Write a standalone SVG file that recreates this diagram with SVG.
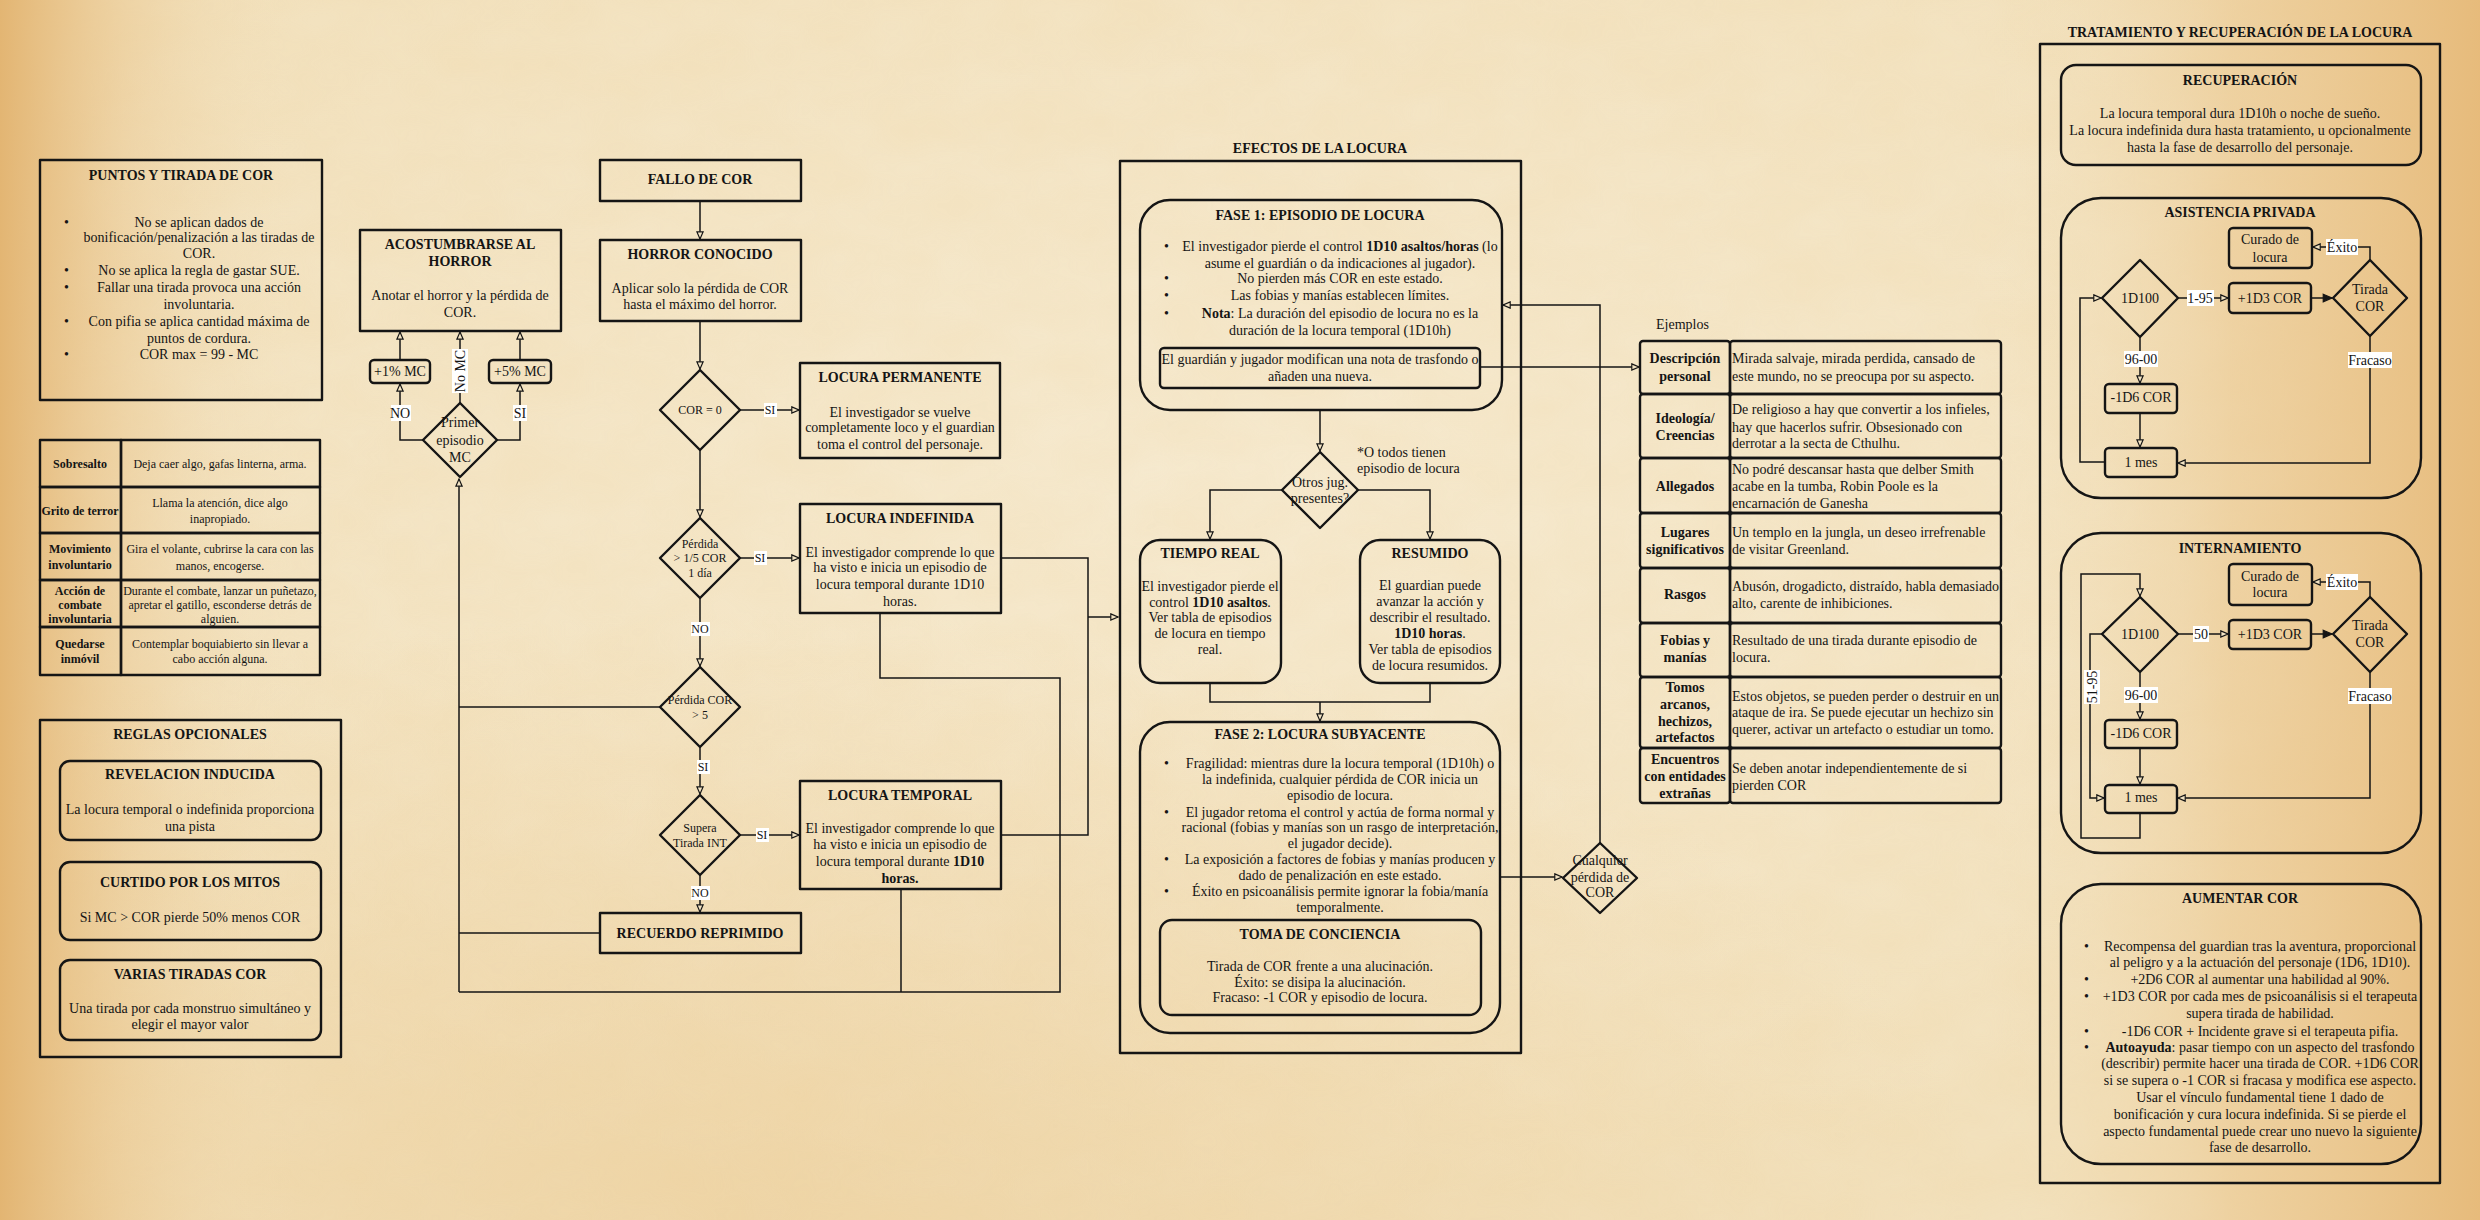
<svg xmlns="http://www.w3.org/2000/svg" width="2480" height="1220" viewBox="0 0 2480 1220">
<defs>
<linearGradient id="gH" x1="0" y1="0" x2="1" y2="0">
<stop offset="0" stop-color="#e2b36f" stop-opacity="0.95"/>
<stop offset="0.05" stop-color="#e8c083" stop-opacity="0.4"/>
<stop offset="0.12" stop-color="#f2e1bd" stop-opacity="0"/>
<stop offset="0.8" stop-color="#f2e1bd" stop-opacity="0"/>
<stop offset="0.9" stop-color="#ebc78e" stop-opacity="0.6"/>
<stop offset="1" stop-color="#e6b978" stop-opacity="0.95"/>
</linearGradient>
<radialGradient id="gC" cx="0.5" cy="0.4" r="0.6">
<stop offset="0" stop-color="#f7ecd4" stop-opacity="0.8"/>
<stop offset="1" stop-color="#f7ecd4" stop-opacity="0"/>
</radialGradient>
<radialGradient id="gB" cx="0.3" cy="1" r="0.5">
<stop offset="0" stop-color="#eccd98" stop-opacity="0.6"/>
<stop offset="1" stop-color="#eccd98" stop-opacity="0"/>
</radialGradient>
<filter id="noise" x="0" y="0" width="100%" height="100%">
<feTurbulence type="fractalNoise" baseFrequency="0.012 0.02" numOctaves="3" seed="7"/>
<feColorMatrix type="matrix" values="0 0 0 0 0.85  0 0 0 0 0.62  0 0 0 0 0.3  0 0 0 0.35 -0.05"/>
</filter>
<marker id="a" viewBox="0 0 10 10" refX="9" refY="5" markerWidth="9" markerHeight="9" orient="auto" markerUnits="userSpaceOnUse">
<path d="M1,1.5 L9,5 L1,8.5 z" fill="#f3e4c4" stroke="#151515" stroke-width="1.3"/>
</marker>
<marker id="af" viewBox="0 0 10 10" refX="9" refY="5" markerWidth="11" markerHeight="11" orient="auto" markerUnits="userSpaceOnUse">
<path d="M1,1.5 L9,5 L1,8.5 z" fill="#151515" stroke="#151515" stroke-width="1"/>
</marker>
<style>
.t{font-family:"Liberation Serif","Times New Roman",serif;font-size:14px;fill:#141414}
.c{text-anchor:middle}
.b{font-weight:bold}
.s12{font-size:12px}
.bx{fill:none;stroke:#151515;stroke-width:2.4;stroke-linejoin:round}
.bx2{fill:none;stroke:#151515;stroke-width:1.2;stroke-linejoin:round;opacity:0.7}
.ln{fill:none;stroke:#151515;stroke-width:1.5}
.ar{marker-end:url(#a)}
.lb{fill:#ffffff}
</style>
</defs>

<g id="background">
<rect width="2480" height="1220" fill="#f2e1bd"/>
<rect width="2480" height="1220" fill="url(#gC)"/>
<rect width="2480" height="1220" fill="url(#gB)"/>
<rect width="2480" height="1220" filter="url(#noise)" opacity="0.55"/>
<rect width="2480" height="1220" fill="url(#gH)"/>
</g>

<!-- LEFT COLUMN -->
<g id="puntos">
<rect class="bx" x="40" y="160" width="282" height="240"/>
<text class="t c b" x="181" y="180">PUNTOS Y TIRADA DE COR</text>
<g class="t">
<text x="64" y="227">•</text><text x="64" y="275">•</text><text x="64" y="292">•</text><text x="64" y="326">•</text><text x="64" y="359">•</text>
</g>
<g class="t c">
<text x="199" y="227">No se aplican dados de</text>
<text x="199" y="242">bonificación/penalización a las tiradas de</text>
<text x="199" y="258">COR.</text>
<text x="199" y="275">No se aplica la regla de gastar SUE.</text>
<text x="199" y="292">Fallar una tirada provoca una acción</text>
<text x="199" y="309">involuntaria.</text>
<text x="199" y="326">Con pifia se aplica cantidad máxima de</text>
<text x="199" y="343">puntos de cordura.</text>
<text x="199" y="359">COR max = 99 - MC</text>
</g>
</g>

<g id="acciones-involuntarias">
<rect class="bx" x="40" y="440" width="81" height="47"/><rect class="bx" x="121" y="440" width="199" height="47"/>
<rect class="bx" x="40" y="487" width="81" height="46"/><rect class="bx" x="121" y="487" width="199" height="46"/>
<rect class="bx" x="40" y="533" width="81" height="47"/><rect class="bx" x="121" y="533" width="199" height="47"/>
<rect class="bx" x="40" y="580" width="81" height="47"/><rect class="bx" x="121" y="580" width="199" height="47"/>
<rect class="bx" x="40" y="627" width="81" height="48"/><rect class="bx" x="121" y="627" width="199" height="48"/>
<g class="t c b s12">
<text x="80" y="468">Sobresalto</text>
<text x="80" y="515">Grito de terror</text>
<text x="80" y="553">Movimiento</text><text x="80" y="569">involuntario</text>
<text x="80" y="595">Acción de</text><text x="80" y="609">combate</text><text x="80" y="623">involuntaria</text>
<text x="80" y="648">Quedarse</text><text x="80" y="663">inmóvil</text>
</g>
<g class="t c s12">
<text x="220" y="468">Deja caer algo, gafas linterna, arma.</text>
<text x="220" y="507">Llama la atención, dice algo</text><text x="220" y="523">inapropiado.</text>
<text x="220" y="553">Gira el volante, cubrirse la cara con las</text><text x="220" y="570">manos, encogerse.</text>
<text x="220" y="595">Durante el combate, lanzar un puñetazo,</text><text x="220" y="609">apretar el gatillo, esconderse detrás de</text><text x="220" y="623">alguien.</text>
<text x="220" y="648">Contemplar boquiabierto sin llevar a</text><text x="220" y="663">cabo acción alguna.</text>
</g>
</g>

<g id="reglas-opcionales">
<rect class="bx" x="40" y="720" width="301" height="337"/>
<text class="t c b" x="190" y="739">REGLAS OPCIONALES</text>
</g>
<g id="revelacion">
<rect class="bx" x="60" y="761" width="261" height="79" rx="10"/>
<text class="t c b" x="190" y="779">REVELACION INDUCIDA</text>
<text class="t c" x="190" y="814">La locura temporal o indefinida proporciona</text>
<text class="t c" x="190" y="831">una pista</text>
</g>
<g id="curtido">
<rect class="bx" x="60" y="862" width="261" height="78" rx="10"/>
<text class="t c b" x="190" y="887">CURTIDO POR LOS MITOS</text>
<text class="t c" x="190" y="922">Si MC &gt; COR pierde 50% menos COR</text>
</g>
<g id="varias">
<rect class="bx" x="60" y="960" width="261" height="80" rx="10"/>
<text class="t c b" x="190" y="979">VARIAS TIRADAS COR</text>
<text class="t c" x="190" y="1013">Una tirada por cada monstruo simultáneo y</text>
<text class="t c" x="190" y="1029">elegir el mayor valor</text>
</g>

<!-- ACOSTUMBRARSE -->
<g id="acostumbrarse">
<rect class="bx" x="360" y="230" width="201" height="101"/>
<text class="t c b" x="460" y="249">ACOSTUMBRARSE AL</text>
<text class="t c b" x="460" y="266">HORROR</text>
<text class="t c" x="460" y="300">Anotar el horror y la pérdida de</text>
<text class="t c" x="460" y="317">COR.</text>
</g>
<g id="mas1">
<rect class="bx" x="370" y="360" width="60" height="23" rx="4"/>
<text class="t c" x="400" y="376">+1% MC</text>
</g>
<g id="mas5">
<rect class="bx" x="489" y="360" width="62" height="23" rx="4"/>
<text class="t c" x="520" y="376">+5% MC</text>
</g>
<g id="primer-episodio">
<path class="bx" d="M460,403 L497,440 L460,477 L423,440 Z"/>
<text class="t c" x="460" y="427">Primer</text>
<text class="t c" x="460" y="445">episodio</text>
<text class="t c" x="460" y="462">MC</text>
</g>

<!-- CENTER FLOW -->
<g id="fallo">
<rect class="bx" x="600" y="160" width="201" height="41"/>
<text class="t c b" x="700" y="184">FALLO DE COR</text>
</g>
<g id="horror-conocido">
<rect class="bx" x="600" y="240" width="201" height="81"/>
<text class="t c b" x="700" y="259">HORROR CONOCIDO</text>
<text class="t c" x="700" y="293">Aplicar solo la pérdida de COR</text>
<text class="t c" x="700" y="309">hasta el máximo del horror.</text>
</g>
<g id="cor0">
<path class="bx" d="M700,370 L740,410 L700,450 L660,410 Z"/>
<text class="t c s12" x="700" y="414">COR = 0</text>
</g>
<g id="locura-permanente">
<rect class="bx" x="800" y="363" width="200" height="95"/>
<text class="t c b" x="900" y="382">LOCURA PERMANENTE</text>
<text class="t c" x="900" y="417">El investigador se vuelve</text>
<text class="t c" x="900" y="432">completamente loco y el guardian</text>
<text class="t c" x="900" y="449">toma el control del personaje.</text>
</g>
<g id="perdida-quinto">
<path class="bx" d="M700,518 L740,558 L700,598 L660,558 Z"/>
<text class="t c s12" x="700" y="548">Pérdida</text>
<text class="t c s12" x="700" y="562">&gt; 1/5 COR</text>
<text class="t c s12" x="700" y="577">1 día</text>
</g>
<g id="locura-indefinida">
<rect class="bx" x="800" y="504" width="201" height="109"/>
<text class="t c b" x="900" y="523">LOCURA INDEFINIDA</text>
<text class="t c" x="900" y="557">El investigador comprende lo que</text>
<text class="t c" x="900" y="572">ha visto e inicia un episodio de</text>
<text class="t c" x="900" y="589">locura temporal durante 1D10</text>
<text class="t c" x="900" y="606">horas.</text>
</g>
<g id="perdida-5">
<path class="bx" d="M700,667 L740,707 L700,747 L660,707 Z"/>
<text class="t c s12" x="700" y="704">Pérdida COR</text>
<text class="t c s12" x="700" y="719">&gt; 5</text>
</g>
<g id="supera-int">
<path class="bx" d="M700,795 L740,835 L700,875 L660,835 Z"/>
<text class="t c s12" x="700" y="832">Supera</text>
<text class="t c s12" x="700" y="847">Tirada INT</text>
</g>
<g id="locura-temporal">
<rect class="bx" x="800" y="781" width="201" height="108"/>
<text class="t c b" x="900" y="800">LOCURA TEMPORAL</text>
<text class="t c" x="900" y="833">El investigador comprende lo que</text>
<text class="t c" x="900" y="849">ha visto e inicia un episodio de</text>
<text class="t c" x="900" y="866">locura temporal durante <tspan class="b">1D10</tspan></text>
<text class="t c b" x="900" y="883">horas.</text>
</g>
<g id="recuerdo-reprimido">
<rect class="bx" x="600" y="913" width="201" height="40"/>
<text class="t c b" x="700" y="938">RECUERDO REPRIMIDO</text>
</g>

<!-- EFECTOS -->
<g id="efectos">
<text class="t c b" x="1320" y="153">EFECTOS DE LA LOCURA</text>
<rect class="bx" x="1120" y="161" width="401" height="892"/>
</g>
<g id="fase1">
<rect class="bx" x="1140" y="200" width="362" height="210" rx="30"/>
<text class="t c b" x="1320" y="220">FASE 1: EPISODIO DE LOCURA</text>
<g class="t"><text x="1164" y="251">•</text><text x="1164" y="283">•</text><text x="1164" y="300">•</text><text x="1164" y="318">•</text></g>
<g class="t c">
<text x="1340" y="251">El investigador pierde el control <tspan class="b">1D10 asaltos/horas</tspan> (lo</text>
<text x="1340" y="268">asume el guardián o da indicaciones al jugador).</text>
<text x="1340" y="283">No pierden más COR en este estado.</text>
<text x="1340" y="300">Las fobias y manías establecen límites.</text>
<text x="1340" y="318"><tspan class="b">Nota</tspan>: La duración del episodio de locura no es la</text>
<text x="1340" y="335">duración de la locura temporal (1D10h)</text>
</g>
</g>
<g id="nota-trasfondo">
<rect class="bx" x="1160" y="348" width="320" height="40" rx="4"/>
<text class="t c" x="1320" y="364">El guardián y jugador modifican una nota de trasfondo o</text>
<text class="t c" x="1320" y="381">añaden una nueva.</text>
</g>
<g id="otros-jug">
<path class="bx" d="M1320,452 L1358,490 L1320,528 L1282,490 Z"/>
<text class="t c" x="1320" y="487">Otros jug.</text>
<text class="t c" x="1320" y="503">presentes?</text>
<text class="t" x="1357" y="457">*O todos tienen</text>
<text class="t" x="1357" y="473">episodio de locura</text>
</g>
<g id="tiempo-real">
<rect class="bx" x="1140" y="540" width="141" height="143" rx="20"/>
<text class="t c b" x="1210" y="558">TIEMPO REAL</text>
<text class="t c" x="1210" y="591">El investigador pierde el</text>
<text class="t c" x="1210" y="607">control <tspan class="b">1D10 asaltos</tspan>.</text>
<text class="t c" x="1210" y="622">Ver tabla de episodios</text>
<text class="t c" x="1210" y="638">de locura en tiempo</text>
<text class="t c" x="1210" y="654">real.</text>
</g>
<g id="resumido">
<rect class="bx" x="1360" y="540" width="140" height="143" rx="20"/>
<text class="t c b" x="1430" y="558">RESUMIDO</text>
<text class="t c" x="1430" y="590">El guardian puede</text>
<text class="t c" x="1430" y="606">avanzar la acción y</text>
<text class="t c" x="1430" y="622">describir el resultado.</text>
<text class="t c" x="1430" y="638"><tspan class="b">1D10 horas</tspan>.</text>
<text class="t c" x="1430" y="654">Ver tabla de episodios</text>
<text class="t c" x="1430" y="670">de locura resumidos.</text>
</g>
<g id="fase2">
<rect class="bx" x="1140" y="722" width="360" height="311" rx="30"/>
<text class="t c b" x="1320" y="739">FASE 2: LOCURA SUBYACENTE</text>
<g class="t"><text x="1164" y="768">•</text><text x="1164" y="817">•</text><text x="1164" y="864">•</text><text x="1164" y="896">•</text></g>
<g class="t c">
<text x="1340" y="768">Fragilidad: mientras dure la locura temporal (1D10h) o</text>
<text x="1340" y="784">la indefinida, cualquier pérdida de COR inicia un</text>
<text x="1340" y="800">episodio de locura.</text>
<text x="1340" y="817">El jugador retoma el control y actúa de forma normal y</text>
<text x="1340" y="832">racional (fobias y manías son un rasgo de interpretación,</text>
<text x="1340" y="848">el jugador decide).</text>
<text x="1340" y="864">La exposición a factores de fobias y manías producen y</text>
<text x="1340" y="880">dado de penalización en este estado.</text>
<text x="1340" y="896">Éxito en psicoanálisis permite ignorar la fobia/manía</text>
<text x="1340" y="912">temporalmente.</text>
</g>
</g>
<g id="toma-conciencia">
<rect class="bx" x="1160" y="920" width="321" height="95" rx="12"/>
<text class="t c b" x="1320" y="939">TOMA DE CONCIENCIA</text>
<text class="t c" x="1320" y="971">Tirada de COR frente a una alucinación.</text>
<text class="t c" x="1320" y="987">Éxito: se disipa la alucinación.</text>
<text class="t c" x="1320" y="1002">Fracaso: -1 COR y episodio de locura.</text>
</g>
<g id="cualquier-perdida">
<path class="bx" d="M1600,843 L1637,878 L1600,913 L1563,878 Z"/>
<text class="t c" x="1600" y="865">Cualquier</text>
<text class="t c" x="1600" y="882">pérdida de</text>
<text class="t c" x="1600" y="897">COR</text>
</g>

<!-- EJEMPLOS -->
<g id="ejemplos">
<text class="t" x="1656" y="329">Ejemplos</text>
<rect class="bx" x="1640" y="341" width="90" height="53" rx="3"/><rect class="bx" x="1730" y="341" width="271" height="53" rx="3"/>
<rect class="bx" x="1640" y="394" width="90" height="64" rx="3"/><rect class="bx" x="1730" y="394" width="271" height="64" rx="3"/>
<rect class="bx" x="1640" y="458" width="90" height="55" rx="3"/><rect class="bx" x="1730" y="458" width="271" height="55" rx="3"/>
<rect class="bx" x="1640" y="513" width="90" height="55" rx="3"/><rect class="bx" x="1730" y="513" width="271" height="55" rx="3"/>
<rect class="bx" x="1640" y="568" width="90" height="55" rx="3"/><rect class="bx" x="1730" y="568" width="271" height="55" rx="3"/>
<rect class="bx" x="1640" y="623" width="90" height="54" rx="3"/><rect class="bx" x="1730" y="623" width="271" height="54" rx="3"/>
<rect class="bx" x="1640" y="677" width="90" height="71" rx="3"/><rect class="bx" x="1730" y="677" width="271" height="71" rx="3"/>
<rect class="bx" x="1640" y="748" width="90" height="55" rx="3"/><rect class="bx" x="1730" y="748" width="271" height="55" rx="3"/>
<g class="t c b">
<text x="1685" y="363">Descripción</text><text x="1685" y="381">personal</text>
<text x="1685" y="423">Ideología/</text><text x="1685" y="440">Creencias</text>
<text x="1685" y="491">Allegados</text>
<text x="1685" y="537">Lugares</text><text x="1685" y="554">significativos</text>
<text x="1685" y="599">Rasgos</text>
<text x="1685" y="645">Fobias y</text><text x="1685" y="662">manías</text>
<text x="1685" y="692">Tomos</text><text x="1685" y="709">arcanos,</text><text x="1685" y="726">hechizos,</text><text x="1685" y="742">artefactos</text>
<text x="1685" y="764">Encuentros</text><text x="1685" y="781">con entidades</text><text x="1685" y="798">extrañas</text>
</g>
<g class="t">
<text x="1732" y="363">Mirada salvaje, mirada perdida, cansado de</text><text x="1732" y="381">este mundo, no se preocupa por su aspecto.</text>
<text x="1732" y="414">De religioso a hay que convertir a los infieles,</text><text x="1732" y="432">hay que hacerlos sufrir. Obsesionado con</text><text x="1732" y="448">derrotar a la secta de Cthulhu.</text>
<text x="1732" y="474">No podré descansar hasta que delber Smith</text><text x="1732" y="491">acabe en la tumba, Robin Poole es la</text><text x="1732" y="508">encarnación de Ganesha</text>
<text x="1732" y="537">Un templo en la jungla, un deseo irrefrenable</text><text x="1732" y="554">de visitar Greenland.</text>
<text x="1732" y="591">Abusón, drogadicto, distraído, habla demasiado</text><text x="1732" y="608">alto, carente de inhibiciones.</text>
<text x="1732" y="645">Resultado de una tirada durante episodio de</text><text x="1732" y="662">locura.</text>
<text x="1732" y="701">Estos objetos, se pueden perder o destruir en un</text><text x="1732" y="717">ataque de ira. Se puede ejecutar un hechizo sin</text><text x="1732" y="734">querer, activar un artefacto o estudiar un tomo.</text>
<text x="1732" y="773">Se deben anotar independientemente de si</text><text x="1732" y="790">pierden COR</text>
</g>
</g>

<!-- RIGHT COLUMN -->
<g id="tratamiento">
<text class="t c b" x="2240" y="37">TRATAMIENTO Y RECUPERACIÓN DE LA LOCURA</text>
<rect class="bx" x="2040" y="44" width="400" height="1139"/>
</g>
<g id="recuperacion">
<rect class="bx" x="2061" y="65" width="360" height="100" rx="15"/>
<text class="t c b" x="2240" y="85">RECUPERACIÓN</text>
<text class="t c" x="2240" y="118">La locura temporal dura 1D10h o noche de sueño.</text>
<text class="t c" x="2240" y="135">La locura indefinida dura hasta tratamiento, u opcionalmente</text>
<text class="t c" x="2240" y="152">hasta la fase de desarrollo del personaje.</text>
</g>
<g id="asistencia-privada">
<rect class="bx" x="2061" y="198" width="360" height="300" rx="40"/>
<text class="t c b" x="2240" y="217">ASISTENCIA PRIVADA</text>
</g>
<g id="ap-curado"><rect class="bx" x="2229" y="228" width="83" height="40" rx="4"/><text class="t c" x="2270" y="244">Curado de</text><text class="t c" x="2270" y="262">locura</text></g>
<g id="ap-1d100"><path class="bx" d="M2140,260 L2178,298 L2140,337 L2102,298 Z"/><text class="t c" x="2140" y="303">1D100</text></g>
<g id="ap-1d3"><rect class="bx" x="2229" y="283" width="82" height="30" rx="4"/><text class="t c" x="2270" y="303">+1D3 COR</text></g>
<g id="ap-tirada"><path class="bx" d="M2370,260 L2407,298 L2370,336 L2333,298 Z"/><text class="t c" x="2370" y="294">Tirada</text><text class="t c" x="2370" y="311">COR</text></g>
<g id="ap-1d6"><rect class="bx" x="2105" y="384" width="72" height="29" rx="4"/><text class="t c" x="2141" y="402">-1D6 COR</text></g>
<g id="ap-mes"><rect class="bx" x="2105" y="448" width="72" height="29" rx="4"/><text class="t c" x="2141" y="467">1 mes</text></g>

<g id="internamiento">
<rect class="bx" x="2061" y="533" width="360" height="320" rx="40"/>
<text class="t c b" x="2240" y="553">INTERNAMIENTO</text>
</g>
<g id="in-curado"><rect class="bx" x="2229" y="564" width="83" height="41" rx="4"/><text class="t c" x="2270" y="581">Curado de</text><text class="t c" x="2270" y="597">locura</text></g>
<g id="in-1d100"><path class="bx" d="M2140,597 L2178,634 L2140,672 L2102,634 Z"/><text class="t c" x="2140" y="639">1D100</text></g>
<g id="in-1d3"><rect class="bx" x="2229" y="620" width="82" height="29" rx="4"/><text class="t c" x="2270" y="639">+1D3 COR</text></g>
<g id="in-tirada"><path class="bx" d="M2370,597 L2407,634 L2370,672 L2333,634 Z"/><text class="t c" x="2370" y="630">Tirada</text><text class="t c" x="2370" y="647">COR</text></g>
<g id="in-1d6"><rect class="bx" x="2105" y="720" width="72" height="28" rx="4"/><text class="t c" x="2141" y="738">-1D6 COR</text></g>
<g id="in-mes"><rect class="bx" x="2105" y="785" width="72" height="28" rx="4"/><text class="t c" x="2141" y="802">1 mes</text></g>

<g id="aumentar-cor">
<rect class="bx" x="2061" y="884" width="360" height="280" rx="40"/>
<text class="t c b" x="2240" y="903">AUMENTAR COR</text>
<g class="t"><text x="2084" y="951">•</text><text x="2084" y="984">•</text><text x="2084" y="1001">•</text><text x="2084" y="1036">•</text><text x="2084" y="1052">•</text></g>
<g class="t c">
<text x="2260" y="951">Recompensa del guardian tras la aventura, proporcional</text>
<text x="2260" y="967">al peligro y a la actuación del personaje (1D6, 1D10).</text>
<text x="2260" y="984">+2D6 COR al aumentar una habilidad al 90%.</text>
<text x="2260" y="1001">+1D3 COR por cada mes de psicoanálisis si el terapeuta</text>
<text x="2260" y="1018">supera tirada de habilidad.</text>
<text x="2260" y="1036">-1D6 COR + Incidente grave si el terapeuta pifia.</text>
<text x="2260" y="1052"><tspan class="b">Autoayuda</tspan>: pasar tiempo con un aspecto del trasfondo</text>
<text x="2260" y="1068">(describir) permite hacer una tirada de COR. +1D6 COR</text>
<text x="2260" y="1085">si se supera o -1 COR si fracasa y modifica ese aspecto.</text>
<text x="2260" y="1102">Usar el vínculo fundamental tiene 1 dado de</text>
<text x="2260" y="1119">bonificación y cura locura indefinida. Si se pierde el</text>
<text x="2260" y="1136">aspecto fundamental puede crear uno nuevo la siguiente</text>
<text x="2260" y="1152">fase de desarrollo.</text>
</g>
</g>

<!-- CONNECTORS -->
<g id="connectors">
<!-- acostumbrarse -->
<path class="ln ar" d="M423,440 H400 V384"/>
<path class="ln ar" d="M497,440 H520 V384"/>
<path class="ln ar" d="M460,403 V332"/>
<path class="ln ar" d="M400,360 V332"/>
<path class="ln ar" d="M520,360 V332"/>
<path class="ln ar" d="M459,992 V479"/>
<!-- center -->
<path class="ln ar" d="M700,201 V239"/>
<path class="ln ar" d="M700,321 V369"/>
<path class="ln ar" d="M740,410 H799"/>
<path class="ln ar" d="M700,450 V517"/>
<path class="ln ar" d="M740,558 H799"/>
<path class="ln ar" d="M700,598 V666"/>
<path class="ln ar" d="M700,747 V794"/>
<path class="ln ar" d="M740,835 H799"/>
<path class="ln ar" d="M700,875 V912"/>
<path class="ln" d="M660,707 H459"/>
<path class="ln" d="M600,933 H459"/>
<path class="ln" d="M880,613 V678 H1060 V992 H459"/>
<path class="ln" d="M901,889 V992"/>
<path class="ln" d="M1001,558 H1088 V617"/>
<path class="ln" d="M1001,835 H1088 V617"/>
<path class="ln ar" d="M1088,617 H1118"/>
<!-- efectos -->
<path class="ln ar" d="M1320,410 V451"/>
<path class="ln ar" d="M1282,490 H1210 V539"/>
<path class="ln ar" d="M1358,490 H1430 V539"/>
<path class="ln" d="M1210,683 V702 H1430 V683"/>
<path class="ln ar" d="M1320,702 V721"/>
<path class="ln ar" d="M1500,877 H1562"/>
<path class="ln ar" d="M1600,843 V305 H1503"/>
<path class="ln ar" d="M1480,367 H1639"/>
<!-- asistencia privada -->
<path class="ln ar" d="M2178,298 H2228"/>
<path class="ln" d="M2311,298 H2332" marker-end="url(#af)"/>
<path class="ln ar" d="M2370,260 V247 H2313"/>
<path class="ln ar" d="M2370,336 V463 H2178"/>
<path class="ln ar" d="M2140,337 V383"/>
<path class="ln ar" d="M2140,413 V447"/>
<path class="ln ar" d="M2105,462 H2080 V298 H2101"/>
<!-- internamiento -->
<path class="ln ar" d="M2178,634 H2228"/>
<path class="ln" d="M2311,634 H2332" marker-end="url(#af)"/>
<path class="ln ar" d="M2370,597 V582 H2313"/>
<path class="ln ar" d="M2370,672 V798 H2178"/>
<path class="ln ar" d="M2140,672 V719"/>
<path class="ln ar" d="M2140,748 V784"/>
<path class="ln ar" d="M2102,634 H2090 V798 H2104"/>
<path class="ln ar" d="M2140,813 V838 H2081 V574 H2140 V596"/>
</g>

<g id="connector-labels">
<rect class="lb" x="391" y="405" width="20" height="16"/><text class="t c" x="400" y="418">NO</text>
<rect class="lb" x="513" y="405" width="14" height="16"/><text class="t c" x="520" y="418">SI</text>
<g transform="rotate(-90 460 371)"><rect class="lb" x="438" y="363" width="44" height="16"/><text class="t c" x="460" y="376">No MC</text></g>
<rect class="lb" x="764" y="403" width="13" height="14"/><text class="t c s12" x="770" y="414">SI</text>
<rect class="lb" x="754" y="551" width="13" height="14"/><text class="t c s12" x="760" y="562">SI</text>
<rect class="lb" x="691" y="622" width="19" height="14"/><text class="t c s12" x="700" y="633">NO</text>
<rect class="lb" x="697" y="760" width="13" height="14"/><text class="t c s12" x="703" y="771">SI</text>
<rect class="lb" x="756" y="828" width="13" height="14"/><text class="t c s12" x="762" y="839">SI</text>
<rect class="lb" x="691" y="886" width="19" height="14"/><text class="t c s12" x="700" y="897">NO</text>
<rect class="lb" x="2187" y="290" width="27" height="16"/><text class="t c" x="2200" y="303">1-95</text>
<rect class="lb" x="2326" y="239" width="32" height="16"/><text class="t c" x="2342" y="252">Éxito</text>
<rect class="lb" x="2348" y="352" width="44" height="16"/><text class="t c" x="2370" y="365">Fracaso</text>
<rect class="lb" x="2124" y="351" width="34" height="16"/><text class="t c" x="2141" y="364">96-00</text>
<rect class="lb" x="2193" y="626" width="16" height="16"/><text class="t c" x="2201" y="639">50</text>
<rect class="lb" x="2326" y="574" width="32" height="16"/><text class="t c" x="2342" y="587">Éxito</text>
<rect class="lb" x="2348" y="688" width="44" height="16"/><text class="t c" x="2370" y="701">Fracaso</text>
<rect class="lb" x="2124" y="687" width="34" height="16"/><text class="t c" x="2141" y="700">96-00</text>
<g transform="rotate(-90 2092 687)"><rect class="lb" x="2075" y="679" width="34" height="16"/><text class="t c" x="2092" y="692">51-95</text></g>
</g>
</svg>
